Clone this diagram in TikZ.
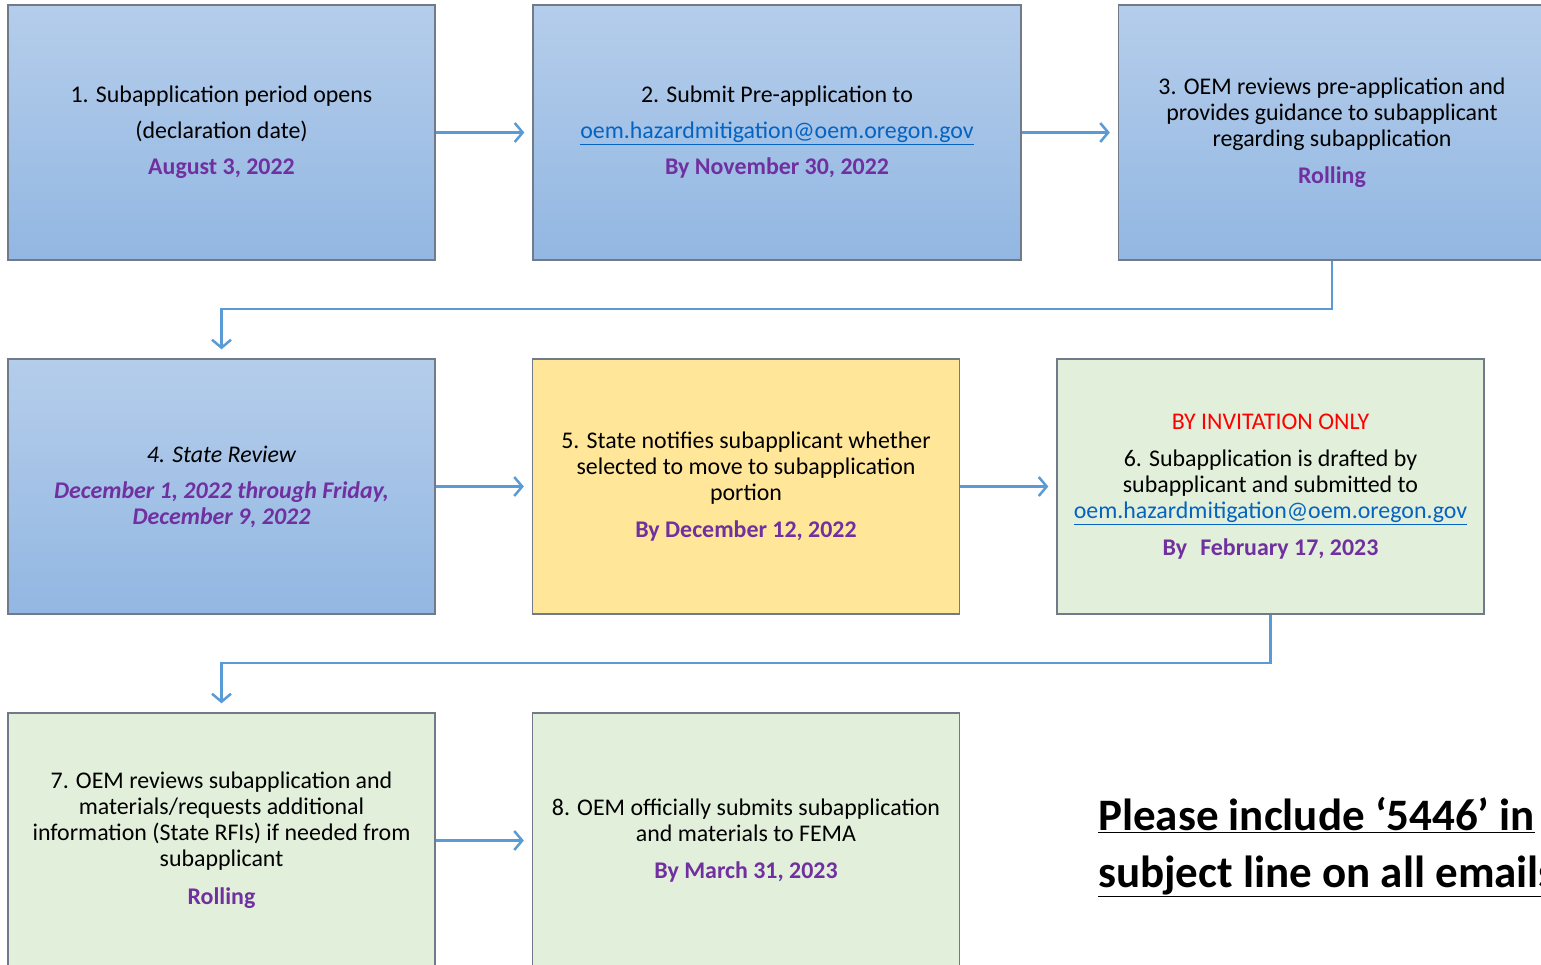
\documentclass[tikz,border=0pt]{standalone}
\usepackage{fontspec}
\setmainfont{Carlito}
\usetikzlibrary{arrows.meta}
\definecolor{bordergray}{RGB}{112,122,136}
\definecolor{bluetop}{RGB}{181,205,235}
\definecolor{bluebot}{RGB}{146,183,226}
\definecolor{yellowfill}{RGB}{255,230,153}
\definecolor{greenfill}{RGB}{226,239,218}
\definecolor{arrowblue}{RGB}{91,155,213}
\definecolor{datepurple}{RGB}{112,48,160}
\definecolor{linkblue}{RGB}{5,99,193}
\definecolor{redtext}{RGB}{255,0,0}
\tikzset{
  stepbox/.style={draw=bordergray, line width=1.3pt, rectangle, minimum width=427pt, minimum height=255pt, align=center, inner sep=0pt, font=\fontsize{23.9}{26}\selectfont},
  bluebox/.style={stepbox, top color=bluetop, bottom color=bluebot},
  yellowbox/.style={stepbox, fill=yellowfill},
  greenbox/.style={stepbox, fill=greenfill},
  flow/.style={draw=arrowblue, line width=2.5pt, -{Straight Barb[length=8pt,width=19pt,line width=2.5pt]}},
}
\newcommand{\dt}[1]{\textcolor{datepurple}{\bfseries #1}}
\newcommand{\lnk}[1]{\textcolor{linkblue}{\underline{#1}}}
\begin{document}
\begin{tikzpicture}[x=1pt,y=-1pt]
\useasboundingbox (0,0) rectangle (1541,964);
\begin{scope}
\clip (0,0) rectangle (1541,964);
\node[bluebox] (b1) at (221.5,132.5) {1. Subapplication period opens\\[10pt](declaration date)\\[10pt]\dt{August 3, 2022}};
\node[bluebox, minimum width=488pt] (b2) at (777,132.5) {2. Submit Pre-application to\\[10pt]\lnk{oem.hazardmitigation@oem.oregon.gov}\\[10pt]\dt{By November 30, 2022}};
\node[bluebox] (b3) at (1332,132.5) {3. OEM reviews pre-application and\\provides guidance to subapplicant\\regarding subapplication\\[11pt]\dt{Rolling}};
\node[bluebox] (b4) at (221.5,486.5) {\itshape 4. State Review\\[10pt]\dt{\itshape December 1, 2022 through Friday,}\\\dt{\itshape December 9, 2022}};
\node[yellowbox] (b5) at (746,486.5) {5. State notifies subapplicant whether\\selected to move to subapplication\\portion\\[11pt]\dt{By December 12, 2022}};
\node[greenbox] (b6) at (1270.5,486.5) {\textcolor{redtext}{BY INVITATION ONLY}\\[11pt]6. Subapplication is drafted by\\subapplicant and submitted to\\\lnk{oem.hazardmitigation@oem.oregon.gov}\\[11pt]\dt{By\hspace{0.55em}February 17, 2023}};
\node[greenbox] (b7) at (221.5,840.5) {7. OEM reviews subapplication and\\materials/requests additional\\information (State RFIs) if needed from\\subapplicant\\[12pt]\dt{Rolling}};
\node[greenbox] (b8) at (746,840.5) {8. OEM officially submits subapplication\\and materials to FEMA\\[11pt]\dt{By March 31, 2023}};

\draw[flow] (b1.east) -- ([xshift=-8pt]b2.west);
\draw[flow] (b2.east) -- ([xshift=-8pt]b3.west);
\draw[flow] (b3.south) |- (221.5,309) -- ([yshift=9pt]b4.north);
\draw[flow] (b4.east) -- ([xshift=-8pt]b5.west);
\draw[flow] (b5.east) -- ([xshift=-8pt]b6.west);
\draw[flow] (b6.south) |- (221.5,663) -- ([yshift=9pt]b7.north);
\draw[flow] (b7.east) -- ([xshift=-8pt]b8.west);

\node[anchor=base west, inner sep=0pt, font=\fontsize{45}{57}\selectfont\bfseries, align=left] (note) at (1098,887) {\underline{Please include ‘5446’ in}\\\underline{subject line on all emails}};
\end{scope}
\end{tikzpicture}
\end{document}
